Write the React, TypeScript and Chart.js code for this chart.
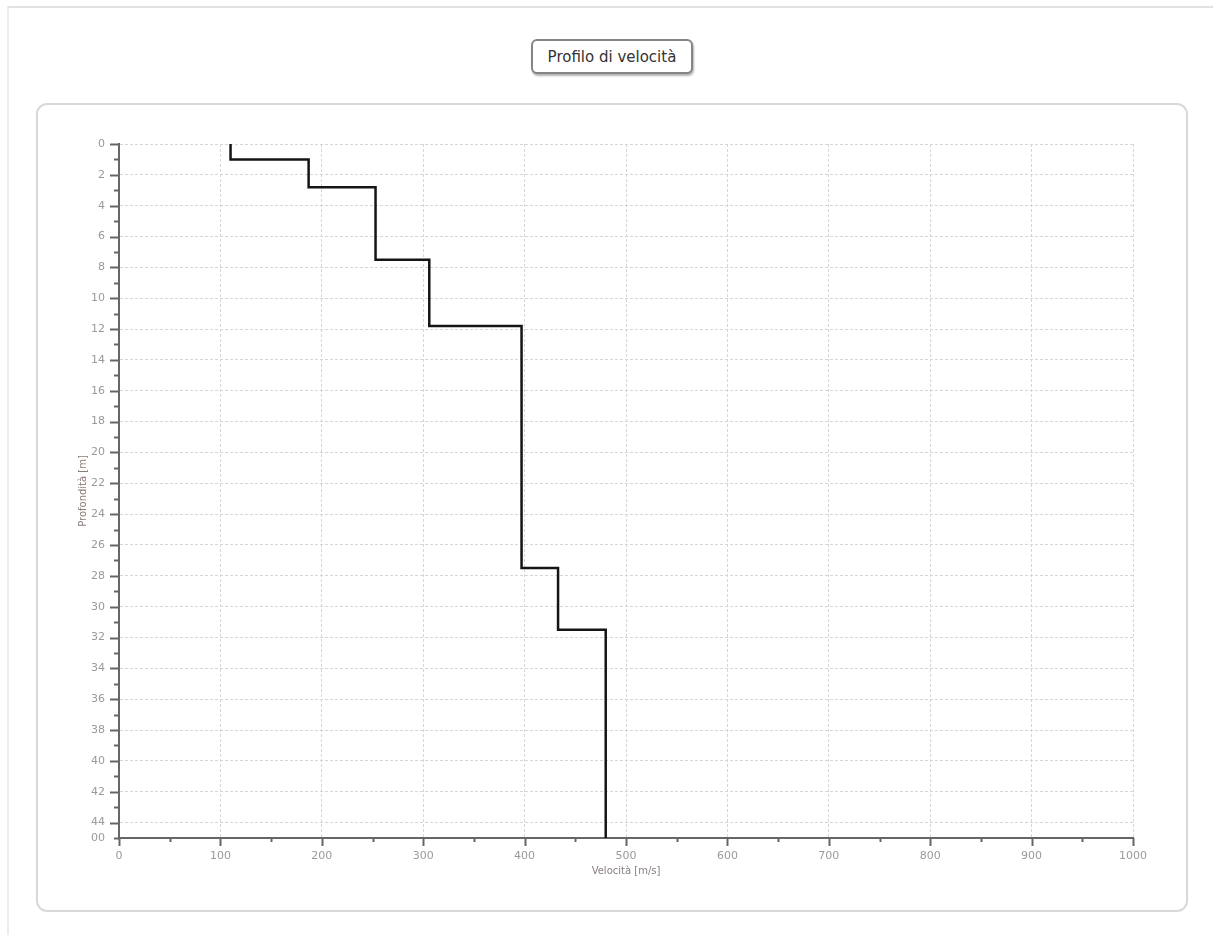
import React, { useEffect, useRef } from 'react';
import { Chart, registerables } from 'chart.js';

Chart.register(...registerables);

// ---- data ----
const chartTitle = 'Profilo di velocità';
const xAxisTitle = 'Velocità [m/s]';
const yAxisTitle = 'Profondità [m]';
const layerVelocities = [110, 187, 253, 306, 397, 433, 480];
const layerTops = [0, 1.0, 2.8, 7.5, 11.8, 27.5, 31.5];
const layerBottoms = [1.0, 2.8, 7.5, 11.8, 27.5, 31.5, 45];
const xMin = 0;
const xMax = 1000;
const xStep = 50;
const xLabelEvery = 100;
const yMin = 0;
const yMax = 45;
const yStep = 1;
const yLabelEvery = 2;
const yBottomLabel = '00';

const profilePoints = layerVelocities.flatMap((v, i) => [
  { x: v, y: layerTops[i] },
  { x: v, y: layerBottoms[i] },
]);

const tickMarks = {
  id: 'tickMarks',
  afterDraw(chart: any) {
    const { ctx, chartArea } = chart;
    const xs = chart.scales.x;
    const ys = chart.scales.y;
    ctx.save();
    ctx.strokeStyle = '#666666';
    ctx.lineWidth = 2;
    xs.ticks.forEach((t: any) => {
      const px = Math.round(xs.getPixelForValue(t.value)) + 0.5;
      const len = t.value % xLabelEvery === 0 ? 8 : 4;
      ctx.beginPath();
      ctx.moveTo(px, chartArea.bottom);
      ctx.lineTo(px, chartArea.bottom + len);
      ctx.stroke();
    });
    ys.ticks.forEach((t: any) => {
      const py = Math.round(ys.getPixelForValue(t.value)) + 0.5;
      const len = t.value % yLabelEvery === 0 ? 9 : 5;
      ctx.beginPath();
      ctx.moveTo(chartArea.left, py);
      ctx.lineTo(chartArea.left - len, py);
      ctx.stroke();
    });
    ctx.restore();
  },
};

export default function App() {
  const canvasRef = useRef<HTMLCanvasElement | null>(null);

  useEffect(() => {
    if (!canvasRef.current) return;
    Chart.defaults.font.family = "'DejaVu Sans', sans-serif";
    const chart = new Chart(canvasRef.current, {
      type: 'scatter',
      data: {
        datasets: [
          {
            data: profilePoints,
            showLine: true,
            borderColor: '#151515',
            borderWidth: 2.5,
            pointRadius: 0,
            fill: false,
            tension: 0,
          },
        ],
      },
      plugins: [tickMarks],
      options: {
        animation: false,
        responsive: false,
        maintainAspectRatio: false,
        layout: { padding: { left: 0, top: 41, right: 55, bottom: 34 } },
        plugins: {
          legend: { display: false },
          tooltip: { enabled: false },
          title: { display: false },
        },
        scales: {
          x: {
            type: 'linear',
            position: 'bottom',
            min: xMin,
            max: xMax,
            afterFit: (s: any) => {
              s.height = 40;
            },
            ticks: {
              stepSize: xStep,
              autoSkip: false,
              maxRotation: 0,
              maxTicksLimit: 200,
              padding: 12,
              color: '#9a9a9a',
              font: { size: 11 },
              callback: (v: any) => (Number(v) % xLabelEvery === 0 ? String(v) : ''),
            },
            grid: {
              drawTicks: false,
              lineWidth: 1,
              color: (c: any) =>
                c.tick && c.tick.value % xLabelEvery === 0 ? '#d6d6d6' : 'rgba(0,0,0,0)',
            },
            border: { display: true, color: '#666666', width: 2, dash: [3, 2] },
            title: {
              display: true,
              text: xAxisTitle,
              color: '#8a8080',
              font: { size: 10 },
              padding: { top: 0, bottom: 1 },
            },
          },
          y: {
            type: 'linear',
            reverse: true,
            min: yMin,
            max: yMax,
            afterFit: (s: any) => {
              s.width = 83;
            },
            ticks: {
              stepSize: yStep,
              autoSkip: false,
              maxTicksLimit: 200,
              padding: 14,
              color: '#9a9a9a',
              font: { size: 11 },
              callback: (v: any) => {
                const n = Number(v);
                if (n === yMax) return yBottomLabel;
                return n % yLabelEvery === 0 ? String(n) : '';
              },
            },
            grid: {
              drawTicks: false,
              lineWidth: 1,
              color: (c: any) =>
                c.tick && c.tick.value % yLabelEvery === 0 ? '#d6d6d6' : 'rgba(0,0,0,0)',
            },
            border: { display: true, color: '#666666', width: 2, dash: [3, 2] },
            title: {
              display: true,
              text: yAxisTitle,
              color: '#8a7d78',
              font: { size: 10 },
              padding: { top: 41, bottom: 0 },
            },
          },
        },
      } as any,
    });
    return () => chart.destroy();
  }, []);

  return (
    <div
      style={{
        position: 'absolute',
        left: 0,
        top: 0,
        width: 1213,
        height: 935,
        overflow: 'hidden',
        background: '#ffffff',
      }}
    >
      <div
        style={{
          position: 'absolute',
          left: 7,
          top: 6,
          width: 1300,
          height: 1000,
          borderTop: '2px solid #e2e2e2',
          borderLeft: '2px solid #ececec',
        }}
      />
      <div
        style={{
          position: 'absolute',
          left: 531,
          top: 39,
          width: 162,
          height: 35,
          boxSizing: 'border-box',
          border: '2px solid #858585',
          borderRadius: 6,
          boxShadow: '1px 2px 2px rgba(0,0,0,0.3)',
          background: '#ffffff',
          display: 'flex',
          alignItems: 'center',
          justifyContent: 'center',
          fontFamily: "'DejaVu Sans', sans-serif",
          fontSize: 15,
          color: '#333333',
        }}
      >
        {chartTitle}
      </div>
      <div
        style={{
          position: 'absolute',
          left: 36,
          top: 103,
          width: 1152,
          height: 809,
          boxSizing: 'border-box',
          border: '2px solid #d9d9d9',
          borderRadius: 11,
        }}
      />
      <canvas
        ref={canvasRef}
        width={1152}
        height={809}
        style={{ position: 'absolute', left: 36, top: 103, width: 1152, height: 809 }}
      />
    </div>
  );
}
